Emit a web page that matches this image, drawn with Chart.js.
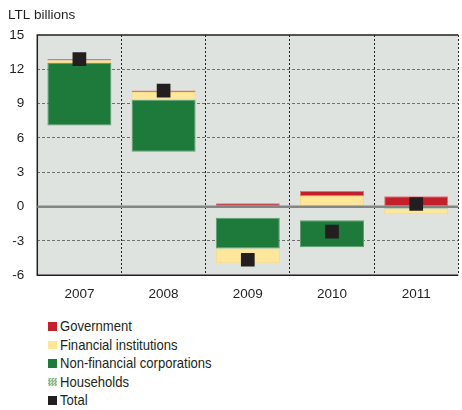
<!DOCTYPE html>
<html>
<head>
<meta charset="utf-8">
<script src="https://cdn.jsdelivr.net/npm/chart.js@4"></script>
<style>
  html, body { margin: 0; padding: 0; background: #fff; overflow: hidden; }
  #wrap { position: relative; width: 462px; height: 410px; overflow: hidden; }
  #chart { position: absolute; left: 0; top: 0; }
  #legend { position: absolute; left: 48px; top: 317px; font: 14.5px "Liberation Sans", Arial, sans-serif; color: #231f20; }
  #legend .item { height: 18.5px; display: flex; align-items: center; white-space: nowrap; }
  #legend .box { width: 8.5px; height: 8.5px; margin-right: 3.5px; flex: none; }
  #legend .text { display: inline-block; transform: scaleX(0.9); transform-origin: left center; }
  #legend .hatch {
    background-color: #b3cfac;
    background-image: repeating-conic-gradient(#8fb889 0 25%, #cfe2ca 0 50%);
    background-size: 3px 3px;
  }
</style>
</head>
<body>
<div id="wrap">
  <canvas id="chart" width="468" height="310"></canvas>
  <div id="legend"></div>
</div>
<script>
const years = ['2007', '2008', '2009', '2010', '2011'];
const government = [0.12, 0.14, 0.3, 0.43, 0.9];
const financialInstitutions = [0.23, 0.67, -1.28, 0.94, -0.5];
const nonFinancialCorporations = [5.45, 4.55, -2.7, -2.35, -0.17];
const households = [7.1, 4.8, -0.96, -1.2, 0];
const total = [12.9, 10.14, -4.64, -2.18, 0.23];
const yMin = -6, yMax = 15, yStep = 3;

const ink = '#231f20';
Chart.defaults.font.family = '"Liberation Sans", Arial, sans-serif';
Chart.defaults.font.size = 13.5;

// plot background
const plotBackground = {
    id: 'plotBackground',
    beforeDraw(chart) {
        const {ctx, chartArea: a} = chart;
        ctx.save();
        ctx.fillStyle = '#dfe3df';
        ctx.fillRect(a.left, a.top, a.right - a.left, a.bottom - a.top);
        ctx.restore();
    }
};

// solid frame on top, left and bottom
const plotFrame = {
    id: 'plotFrame',
    beforeDatasetsDraw(chart) {
        const {ctx, chartArea: a} = chart;
        ctx.save();
        ctx.strokeStyle = ink;
        ctx.lineWidth = 1.5;
        ctx.beginPath();
        ctx.moveTo(a.right, a.top);
        ctx.lineTo(a.left, a.top);
        ctx.lineTo(a.left, a.bottom);
        ctx.lineTo(a.right, a.bottom);
        ctx.stroke();
        ctx.restore();
    }
};

// zero line goes over the bars but under the total markers
const zeroLine = {
    id: 'zeroLine',
    beforeDatasetDraw(chart, args) {
        if (args.meta.type !== 'line') return;
        const {ctx, chartArea: a} = chart;
        const y = chart.scales.y.getPixelForValue(0);
        ctx.save();
        ctx.strokeStyle = '#858585';
        ctx.lineWidth = 2.5;
        ctx.beginPath();
        ctx.moveTo(a.left, y);
        ctx.lineTo(a.right, y);
        ctx.stroke();
        ctx.restore();
    }
};

function bar(label, data, fill, edge) {
    return {
        label: label,
        data: data,
        backgroundColor: fill,
        borderColor: edge,
        borderWidth: edge ? 1 : 0,
        borderSkipped: false,
        barPercentage: 0.76,
        categoryPercentage: 1,
        stack: 'sectors',
        order: 1
    };
}

const chart = new Chart(document.getElementById('chart'), {
    type: 'bar',
    data: {
        labels: years,
        datasets: [
            bar('Households', households, 'rgba(0,0,0,0)', null),
            bar('Non-financial corporations', nonFinancialCorporations, '#1d7a3b', '#5e9e6c'),
            bar('Financial institutions', financialInstitutions, '#fee79b', '#f6da86'),
            bar('Government', government, '#c2202b', '#e0737a'),
            {
                type: 'line',
                label: 'Total',
                data: total,
                showLine: false,
                pointStyle: 'rect',
                pointRadius: 9.7,
                pointBorderWidth: 0,
                backgroundColor: ink,
                borderColor: ink,
                stack: 'total',
                order: 0
            }
        ]
    },
    options: {
        responsive: false,
        animation: false,
        layout: { padding: { left: 8 } },
        scales: {
            x: {
                stacked: true,
                grid: { color: ink, lineWidth: 1, drawTicks: false, offset: true },
                border: { display: false, dash: [2, 2] },
                ticks: { color: ink, padding: 11.1 },
                afterFit(scale) { scale.height = 34.7; }
            },
            y: {
                stacked: true,
                min: yMin,
                max: yMax,
                ticks: { stepSize: yStep, color: ink, padding: 13 },
                grid: {
                    drawTicks: false,
                    color: ctx => [yMin, 0, yMax].includes(ctx.tick.value) ? 'rgba(0,0,0,0)' : '#6f6f6f',
                    lineWidth: 1
                },
                border: { display: false, dash: [3, 2] },
                afterFit(scale) { scale.width = 29.3; }
            }
        },
        plugins: {
            legend: { display: false },
            tooltip: { enabled: false },
            title: {
                display: true,
                text: 'LTL billions',
                align: 'start',
                color: ink,
                font: { weight: 'normal' },
                padding: { top: 6.9, bottom: 11.9 }
            }
        }
    },
    plugins: [plotBackground, plotFrame, zeroLine]
});

// legend, listed top to bottom
const legendOrder = ['Government', 'Financial institutions', 'Non-financial corporations', 'Households', 'Total'];
const legendEl = document.getElementById('legend');
legendOrder.forEach(name => {
    const ds = chart.data.datasets.find(d => d.label === name);
    const item = document.createElement('div');
    item.className = 'item';
    const box = document.createElement('span');
    box.className = 'box';
    if (name === 'Households') box.classList.add('hatch');
    else box.style.background = ds.backgroundColor;
    const text = document.createElement('span');
    text.className = 'text';
    text.textContent = name;
    item.appendChild(box);
    item.appendChild(text);
    legendEl.appendChild(item);
});
</script>
</body>
</html>
